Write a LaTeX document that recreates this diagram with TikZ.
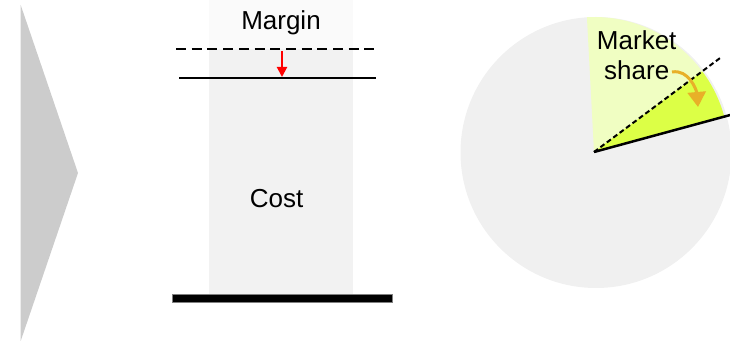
\documentclass[tikz,border=0pt]{standalone}
\usepackage{fontspec}
\setmainfont{Liberation Sans}
\usetikzlibrary{arrows.meta,positioning,calc}
\definecolor{chevrongray}{HTML}{CCCCCC}
\definecolor{margingray}{HTML}{FAFAFA}
\definecolor{costgray}{HTML}{F2F2F2}
\definecolor{piegray}{HTML}{F0F0F0}
\definecolor{shareold}{RGB}{240,254,194}
\definecolor{sharenew}{RGB}{220,255,70}
\definecolor{shareorange}{RGB}{232,176,40}

\begin{document}
\begin{tikzpicture}[x=1pt, y=1pt, >=Stealth,
    label/.style={font=\fontsize{26}{30}\selectfont, anchor=base, inner sep=0pt},
    oldline/.style={line width=2.2pt, dash pattern=on 10pt off 5.7pt},
    newline/.style={line width=2.2pt}]
    \useasboundingbox (0,0) rectangle (730,342);

    % Chevron on the left
    \fill[chevrongray] (20.7,337) -- (78,169) -- (20.7,1) -- cycle;

    % Price bar: margin on top of cost
    \fill[margingray] (209,293) rectangle (353,342);
    \fill[costgray] (209,48) rectangle (353,293);
    \node[label] (margin) at (281,312) {Margin};
    \node[label] (cost) at (276.5,134.7) {Cost};

    % Old and new price level
    \coordinate (oldL) at (176,293);
    \coordinate (oldR) at (377,293);
    \coordinate (newL) at (179,264);
    \coordinate (newR) at (376,264);
    \draw[oldline] (oldL) -- (oldR);
    \draw[newline] (newL) -- (newR);
    \coordinate (dropA) at (282,291);
    \coordinate (dropB) at (282,265);
    \draw[->, red, line width=2pt, arrows={-Triangle[length=10pt,width=10pt]}] (dropA) -- (dropB);

    % Base of the bar
    \draw[gray, fill=black, line width=0.6pt] (172,40) rectangle (392,48);

    % Pie with market share
    \coordinate (pc) at (594,190);
    \fill[piegray] (596,189.5) circle (135.5);
    \fill[shareold] (pc) -- ++(93:135) arc[start angle=93, end angle=36.7, radius=135] -- cycle;
    \fill[sharenew] (pc) -- ++(36.7:135) arc[start angle=36.7, end angle=15.2, radius=135] -- cycle;
    \draw[line width=2pt, dash pattern=on 5pt off 3pt] (pc) -- ++(36.7:159);
    \draw[line width=2.5pt] (pc) -- ++(15.2:142);

    \node[label, align=center] (share) at (636.7,262) {Market\\share};

    % Shift of the share
    \coordinate (shiftA) at (672,270);
    \coordinate (shiftB) at (698,235);
    \draw[shareorange, line width=3pt, arrows={-Triangle[length=15pt,width=18pt]}]
        (shiftA) to[out=10, in=95] (shiftB);

\end{tikzpicture}
\end{document}
